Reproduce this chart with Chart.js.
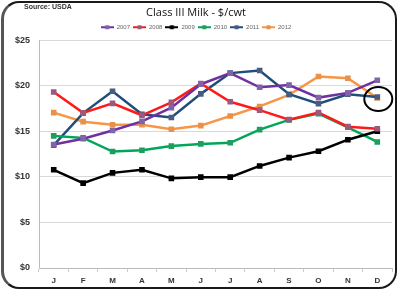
<!DOCTYPE html>
<html>
<head>
<meta charset="utf-8">
<script src="https://cdn.jsdelivr.net/npm/chart.js@4/dist/chart.umd.min.js"></script>
<style>
  html, body { margin: 0; padding: 0; background: #fff; }
  #wrap { position: relative; width: 400px; height: 292px; }
  #frame {
    position: absolute; left: 1px; top: 1px; width: 396px; height: 288px;
    border: 2px solid #1a1a1a; border-left: 3px solid #555; border-radius: 18px;
    pointer-events: none; box-sizing: border-box;
  }
  #source {
    position: absolute; left: 24px; top: 3px;
    font: bold 7px 'Liberation Sans', Arial, sans-serif; color: #333;
  }
</style>
</head>
<body>
<div id="wrap">
  <canvas id="milk" width="400" height="292"></canvas>
  <div id="frame"></div>
  <div id="source">Source: USDA</div>
</div>
<script>
'use strict';
// Class III milk price by month, $/cwt
const MONTHS = ['J', 'F', 'M', 'A', 'M', 'J', 'J', 'A', 'S', 'O', 'N', 'D'];
const Y2007 = [13.56, 14.18, 15.09, 16.09, 17.60, 20.17, 21.38, 19.83, 20.07, 18.70, 19.22, 20.60];
const Y2008 = [19.32, 17.03, 18.07, 16.76, 18.18, 20.25, 18.24, 17.32, 16.28, 17.06, 15.51, 15.28];
const Y2009 = [10.78, 9.31, 10.44, 10.78, 9.84, 9.97, 9.97, 11.20, 12.11, 12.82, 14.08, 15.01];
const Y2010 = [14.50, 14.28, 12.78, 12.92, 13.38, 13.62, 13.74, 15.18, 16.26, 16.94, 15.44, 13.83];
const Y2011 = [13.48, 17.00, 19.40, 16.87, 16.52, 19.11, 21.39, 21.67, 19.07, 18.03, 19.07, 18.77];
const Y2012 = [17.05, 16.06, 15.72, 15.72, 15.23, 15.63, 16.68, 17.73, 19.00, 21.02, 20.83, 18.66];

const SERIES = [
    { label: '2007', data: Y2007, line: '#7030A0', mark: '#7F64A8' },
    { label: '2008', data: Y2008, line: '#FF1A1A', mark: '#9A5A80' },
    { label: '2009', data: Y2009, line: '#000000', mark: '#000000' },
    { label: '2010', data: Y2010, line: '#00A65A', mark: '#1E9E5E' },
    { label: '2011', data: Y2011, line: '#1F4E79', mark: '#4A5A80' },
    { label: '2012', data: Y2012, line: '#F79646', mark: '#E8914A' },
];

// legend swatch: short line with a square marker in the middle
function swatch(line, mark) {
    const c = document.createElement('canvas');
    c.width = 13; c.height = 6;
    const g = c.getContext('2d');
    g.strokeStyle = line; g.lineWidth = 2;
    g.beginPath(); g.moveTo(0, 3); g.lineTo(13, 3); g.stroke();
    g.fillStyle = mark; g.fillRect(4.5, 1, 4, 4);
    return c;
}

// the hand-drawn ring round the last 2012 point
const ringPlugin = {
    id: 'ring',
    afterDatasetsDraw(chart) {
        const x = chart.scales.x.getPixelForValue(11);
        const y = chart.scales.y.getPixelForValue(Y2012[11]);
        const ctx = chart.ctx;
        ctx.save();
        ctx.strokeStyle = '#000';
        ctx.lineWidth = 2;
        ctx.beginPath();
        ctx.ellipse(x + 1, y + 1, 14, 12, 0, 0, Math.PI * 2);
        ctx.stroke();
        ctx.restore();
    },
};

new Chart(document.getElementById('milk'), {
    type: 'line',
    data: {
        labels: MONTHS,
        datasets: SERIES.map(s => ({
            label: s.label,
            data: s.data,
            borderColor: s.line,
            backgroundColor: s.mark,
            pointBackgroundColor: s.mark,
            pointBorderColor: s.mark,
            pointStyle: 'rect',
            pointRadius: 2.2,
            borderWidth: 2.5,
            tension: 0,
        })),
    },
    options: {
        responsive: false,
        animation: false,
        layout: { padding: { left: 0, right: 8, top: 0, bottom: 4 } },
        plugins: {
            title: {
                display: true,
                text: 'Class III Milk - $/cwt',
                color: '#111',
                font: { family: "'Open Sans', sans-serif", size: 11, weight: 'normal' },
                padding: { top: 6, bottom: 2 },
            },
            legend: {
                position: 'top',
                labels: {
                    usePointStyle: true,
                    pointStyleWidth: 13,
                    color: '#666',
                    font: { family: "'Liberation Sans', sans-serif", size: 6 },
                    padding: 3,
                    generateLabels(chart) {
                        return SERIES.map((s, i) => ({
                            text: s.label,
                            pointStyle: swatch(s.line, s.mark),
                            fontColor: '#666',
                            hidden: false,
                            datasetIndex: i,
                            lineWidth: 0,
                        }));
                    },
                },
            },
            tooltip: { enabled: false },
        },
        scales: {
            x: {
                offset: true,
                grid: { display: true, drawOnChartArea: false, offset: true, tickLength: 4, color: '#ccc' },
                border: { color: '#bbb' },
                ticks: { color: '#333', padding: 4, font: { family: "'Liberation Sans', sans-serif", size: 8, weight: 'bold' } },
                afterFit(scale) { scale.height = 20; },
            },
            y: {
                min: 0,
                max: 25,
                grid: { color: '#d9d9d9', drawTicks: false },
                border: { color: '#bbb' },
                ticks: {
                    stepSize: 5,
                    color: '#333',
                    padding: 9,
                    font: { family: "'Liberation Sans', sans-serif", size: 9, weight: 'bold' },
                    callback: v => '$' + v,
                },
                afterFit(scale) { scale.width = 39; },
            },
        },
    },
    plugins: [ringPlugin],
});
</script>
</body>
</html>
